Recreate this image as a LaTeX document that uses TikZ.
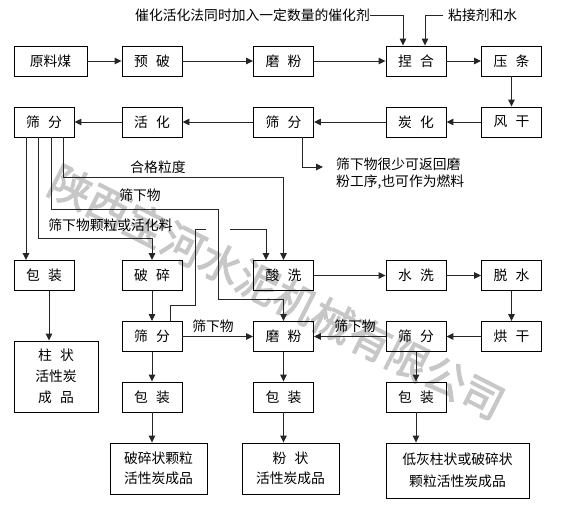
\documentclass[tikz,border=0pt]{standalone}
\usepackage{fontspec}
\setmainfont{Noto Sans CJK SC}
\newfontfamily\wmfont{Noto Sans CJK SC}[FakeBold=2.5]
\usetikzlibrary{arrows.meta}
\newcommand\myfs{\fontsize{13.8}{17}\selectfont}
\newcommand\gap{\hspace{0.6em}}
\begin{document}
\begin{tikzpicture}[x=1pt,y=-1pt,
  box/.style={draw=black, line width=0.9pt, inner sep=0pt, align=center, font=\myfs},
  std/.style={box, minimum width=60pt, minimum height=30pt},
  sz/.style 2 args={box, minimum width=#1pt, minimum height=#2pt},
  arr/.style={draw=black!85, line width=1pt, -{Triangle[length=7pt,width=6.5pt]}},
  ln/.style={draw=black!85, line width=1pt},
  lbl/.style={inner sep=0pt, font=\myfs}]
\fill[white] (0,0) rectangle (568,507);
\useasboundingbox (0,0) rectangle (568,507);
% watermark
\node[text=black!22, font=\wmfont\fontsize{42}{42}\selectfont, rotate=-27, inner sep=0pt] (wm) at (277,292) {陕西宝河水泥机械有限公司};
% row 1
\node[sz={73}{30}] (raw) at (50.5,61) {原料煤};
\node[std] (ypo) at (152,61) {预\gap 破};
\node[std] (mf1) at (283.5,61) {磨\gap 粉};
\node[std] (nh) at (416,61) {捏\gap 合};
\node[std] (yt) at (511.5,61) {压\gap 条};
% row 2
\node[std] (sf1) at (44,122) {筛\gap 分};
\node[std] (hh) at (152,122) {活\gap 化};
\node[std] (sf2) at (283.5,122) {筛\gap 分};
\node[std] (th) at (416,122) {炭\gap 化};
\node[std] (fg) at (511.5,122) {风\gap 干};
% row 3
\node[std] (bz1) at (44,275.5) {包\gap 装};
\node[std] (ps) at (152,275.5) {破\gap 碎};
\node[std] (sx) at (283.5,275.5) {酸\gap 洗};
\node[std] (shx) at (416,275.5) {水\gap 洗};
\node[std] (ts) at (511.5,275.5) {脱\gap 水};
% row 4
\node[std] (sf3) at (152,336.5) {筛\gap 分};
\node[std] (mf2) at (283.5,336.5) {磨\gap 粉};
\node[std] (sf4) at (416,336.5) {筛\gap 分};
\node[std] (hg) at (511.5,336.5) {烘\gap 干};
% row 5
\node[std] (bz2) at (152,397) {包\gap 装};
\node[std] (bz3) at (283.5,397) {包\gap 装};
\node[std] (bz4) at (416,397) {包\gap 装};
% products
\node[sz={84}{71}, font=\fontsize{13.8}{21}\selectfont] (p1) at (56,376.5) {柱\gap 状\\活性炭\\成\gap 品};
\node[sz={97}{51}, font=\fontsize{13.8}{20}\selectfont] (p2) at (158.5,468.5) {破碎状颗粒\\活性炭成品};
\node[sz={97}{51}, font=\fontsize{13.8}{20}\selectfont] (p3) at (290.5,468.5) {粉\gap 状\\活性炭成品};
\node[sz={143}{55}, font=\fontsize{13.8}{22}\selectfont] (p4) at (457.5,470.5) {低灰柱状或破碎状\\颗粒活性炭成品};
% top labels
\node[lbl, anchor=west] (cat) at (135,15) {催化活化法同时加入一定数量的催化剂};
\node[lbl, anchor=west] (glue) at (448,15) {粘接剂和水};
\draw[arr] (cat.east) -| ([xshift=-13pt]nh.north);
\draw[arr] ([xshift=-5pt]glue.west) -| ([xshift=9pt]nh.north);
% row 1 arrows
\draw[arr] (raw) -- (ypo);
\draw[arr] (ypo) -- (mf1);
\draw[arr] (mf1) -- (nh);
\draw[arr] (nh) -- (yt);
\draw[arr] (yt) -- (fg);
% row 2 arrows
\draw[arr] (fg) -- (th);
\draw[arr] (th) -- (sf2);
\draw[arr] (sf2) -- (hh);
\draw[arr] (hh) -- (sf1);
% note from sf2
\coordinate (nt) at (323,167);
\node[lbl, anchor=north west, align=left, font=\fontsize{13.8}{17}\selectfont] (note) at (336,158) {筛下物很少可返回磨\\粉工序,也可作为燃料};
\draw[arr] ([xshift=18.5pt]sf2.south) |- (nt);
% four lines from sf1
\draw[arr] ([xshift=-18pt]sf1.south) -- ([xshift=-18pt]sf1.south |- bz1.north);
\draw[arr] ([xshift=-6pt]sf1.south) |- ([yshift=22pt]ps.north) -- (ps.north);
\draw[arr] ([xshift=7pt]sf1.south) |- (218,209) |- ([yshift=22pt]mf2.north) -- (mf2.north);
\draw[arr] ([xshift=19pt]sf1.south) |- ([yshift=83pt]sx.north) -- (sx.north);
\node[lbl] (l1) at (158,167) {合格粒度};
\node[lbl] (l2) at (140,195) {筛下物};
\node[lbl] (l3) at (110.5,225) {筛下物颗粒或活化料};
% from sf3 up to sx (with a gap at the crossing)
\draw[ln] ([xshift=18pt]sf3.north) |- (195,305) |- (206,229);
\draw[arr] (230,229) -| ([xshift=-17.5pt]sx.north);
% row 3
\draw[arr] (ps) -- (sf3);
\draw[arr] (sx) -- (shx);
\draw[arr] (shx) -- (ts);
\draw[arr] (ts) -- (hg);
% row 4
\draw[arr] (sf3) -- (mf2);
\draw[arr] (hg) -- (sf4);
\draw[arr] (sf4) -- (mf2);
\node[lbl] (l4) at (213,326) {筛下物};
\node[lbl] (l5) at (355,326) {筛下物};
% down to packaging and products
\draw[arr] ([xshift=5pt]bz1.south) -- ([xshift=5pt]bz1.south |- p1.north);
\draw[arr] (sf3) -- (bz2);
\draw[arr] (bz2.south) -- (bz2.south |- p2.north);
\draw[arr] (mf2) -- (bz3);
\draw[arr] (bz3.south) -- (bz3.south |- p3.north);
\draw[arr] (sf4) -- (bz4);
\draw[arr] (bz4.south) -- (bz4.south |- p4.north);
\end{tikzpicture}
\end{document}
